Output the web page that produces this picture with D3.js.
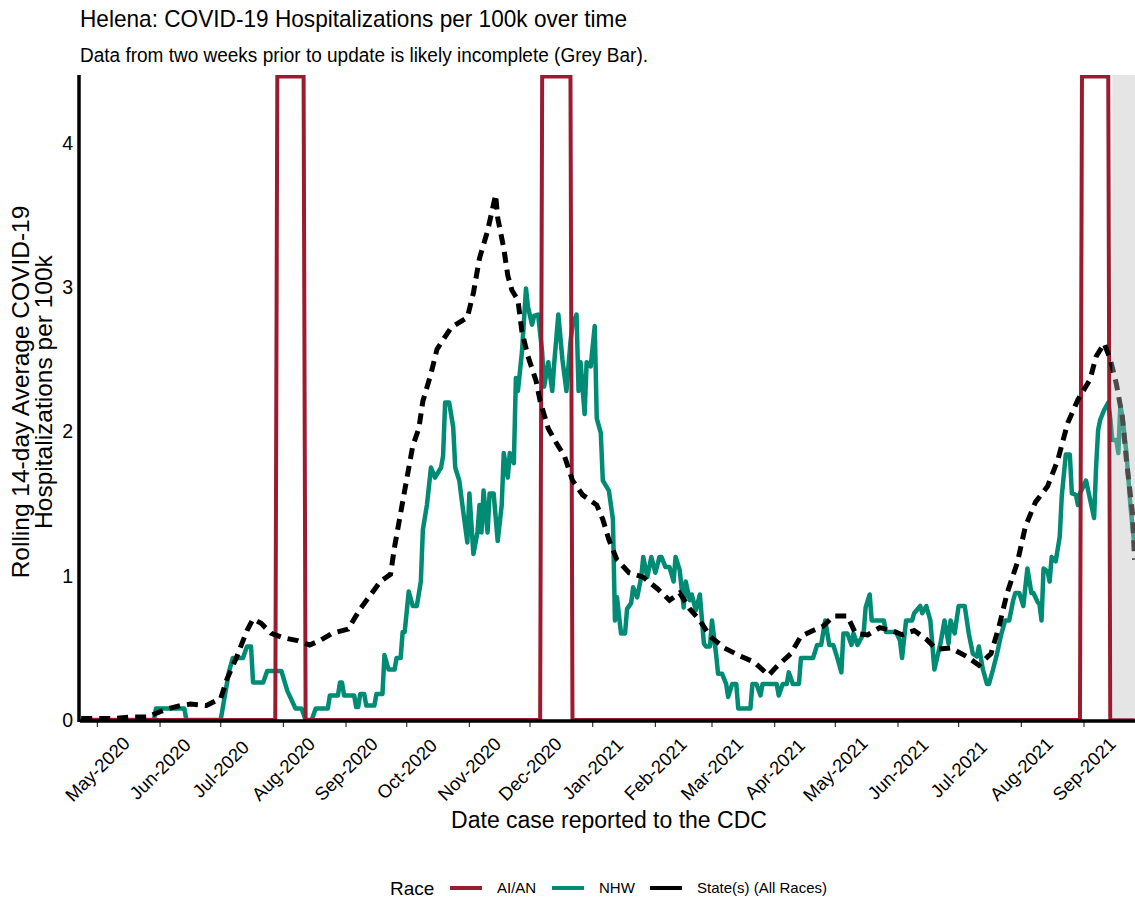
<!DOCTYPE html>
<html>
<head>
<meta charset="utf-8">
<script src="https://cdn.jsdelivr.net/npm/d3@7"></script>
<style>
body { margin: 0; background: #fff; }
svg { font-family: "Liberation Sans", Arial, sans-serif; }
</style>
</head>
<body>
<svg id="chart" width="1135" height="903"></svg>
<script>
// values, [date, per 100k]
const aianSeries = [
  ["2020-04-23", 0], ["2020-07-28", 0], ["2020-07-29", 4.46], ["2020-08-11", 4.46], ["2020-08-12", 0],
  ["2020-12-06", 0], ["2020-12-07", 4.46], ["2020-12-21", 4.46], ["2020-12-22", 0],
  ["2021-08-30", 0], ["2021-08-31", 4.46], ["2021-09-13", 4.46], ["2021-09-14", 0], ["2021-09-26", 0]
];

const nhwSeries = [
  ["2020-04-23", 0], ["2020-05-29", 0], ["2020-05-30", 0.08], ["2020-06-13", 0.08], ["2020-06-14", 0],
  ["2020-07-01", 0], ["2020-07-05", 0.33], ["2020-07-07", 0.43], ["2020-07-12", 0.43], ["2020-07-14", 0.51],
  ["2020-07-16", 0.51], ["2020-07-17", 0.26], ["2020-07-22", 0.26], ["2020-07-24", 0.34], ["2020-07-31", 0.34],
  ["2020-08-03", 0.20], ["2020-08-07", 0.08], ["2020-08-10", 0.08], ["2020-08-12", 0], ["2020-08-15", 0],
  ["2020-08-17", 0.08], ["2020-08-23", 0.08], ["2020-08-24", 0.17], ["2020-08-28", 0.17], ["2020-08-29", 0.26],
  ["2020-08-30", 0.26], ["2020-08-31", 0.17], ["2020-09-05", 0.17], ["2020-09-06", 0.09], ["2020-09-07", 0.09],
  ["2020-09-08", 0.18], ["2020-09-10", 0.18], ["2020-09-11", 0.10], ["2020-09-15", 0.10], ["2020-09-16", 0.18],
  ["2020-09-19", 0.18], ["2020-09-20", 0.45], ["2020-09-22", 0.35], ["2020-09-25", 0.35], ["2020-09-26", 0.43],
  ["2020-09-28", 0.43], ["2020-09-29", 0.61], ["2020-09-30", 0.61], ["2020-10-02", 0.89], ["2020-10-04", 0.79],
  ["2020-10-06", 0.79], ["2020-10-08", 0.96], ["2020-10-09", 1.32], ["2020-10-11", 1.49], ["2020-10-13", 1.75],
  ["2020-10-15", 1.68], ["2020-10-18", 1.75], ["2020-10-19", 1.83], ["2020-10-20", 2.20], ["2020-10-22", 2.20],
  ["2020-10-24", 2.03], ["2020-10-25", 1.75], ["2020-10-27", 1.66], ["2020-10-29", 1.44], ["2020-10-31", 1.23],
  ["2020-11-01", 1.57], ["2020-11-03", 1.15], ["2020-11-05", 1.30], ["2020-11-06", 1.49], ["2020-11-07", 1.30],
  ["2020-11-08", 1.59], ["2020-11-10", 1.30], ["2020-11-11", 1.57], ["2020-11-13", 1.57], ["2020-11-15", 1.24],
  ["2020-11-17", 1.49], ["2020-11-18", 1.85], ["2020-11-20", 1.68], ["2020-11-21", 1.85], ["2020-11-23", 1.78],
  ["2020-11-24", 2.37], ["2020-11-25", 2.28], ["2020-11-27", 2.55], ["2020-11-29", 2.99], ["2020-11-30", 2.86],
  ["2020-12-02", 2.74], ["2020-12-03", 2.80], ["2020-12-05", 2.81], ["2020-12-07", 2.55], ["2020-12-08", 2.31],
  ["2020-12-10", 2.48], ["2020-12-12", 2.28], ["2020-12-13", 2.48], ["2020-12-15", 2.81], ["2020-12-17", 2.50],
  ["2020-12-19", 2.28], ["2020-12-21", 2.62], ["2020-12-22", 2.74], ["2020-12-24", 2.81], ["2020-12-25", 2.28],
  ["2020-12-26", 2.48], ["2020-12-28", 2.12], ["2020-12-29", 2.48], ["2020-12-31", 2.45], ["2021-01-02", 2.73],
  ["2021-01-03", 2.09], ["2021-01-05", 1.99], ["2021-01-06", 1.66], ["2021-01-09", 1.59], ["2021-01-11", 1.39],
  ["2021-01-12", 0.69], ["2021-01-13", 0.85], ["2021-01-15", 0.60], ["2021-01-17", 0.60], ["2021-01-18", 0.77],
  ["2021-01-20", 0.81], ["2021-01-21", 0.92], ["2021-01-23", 0.85], ["2021-01-25", 0.99], ["2021-01-26", 1.13],
  ["2021-01-28", 0.99], ["2021-01-30", 1.13], ["2021-02-01", 1.02], ["2021-02-03", 1.13], ["2021-02-04", 1.13],
  ["2021-02-06", 1.06], ["2021-02-08", 1.06], ["2021-02-10", 0.96], ["2021-02-11", 1.13], ["2021-02-13", 1.04],
  ["2021-02-15", 0.78], ["2021-02-16", 0.96], ["2021-02-18", 0.83], ["2021-02-19", 0.87], ["2021-02-21", 0.76],
  ["2021-02-23", 0.87], ["2021-02-25", 0.53], ["2021-02-26", 0.51], ["2021-02-28", 0.51], ["2021-03-01", 0.69],
  ["2021-03-03", 0.46], ["2021-03-04", 0.32], ["2021-03-06", 0.32], ["2021-03-08", 0.25], ["2021-03-09", 0.16],
  ["2021-03-11", 0.25], ["2021-03-13", 0.25], ["2021-03-14", 0.08], ["2021-03-20", 0.08], ["2021-03-21", 0.25],
  ["2021-03-23", 0.25], ["2021-03-25", 0.17], ["2021-03-26", 0.25], ["2021-04-02", 0.25], ["2021-04-03", 0.17],
  ["2021-04-05", 0.25], ["2021-04-07", 0.25], ["2021-04-08", 0.33], ["2021-04-10", 0.25], ["2021-04-13", 0.25],
  ["2021-04-14", 0.43], ["2021-04-20", 0.43], ["2021-04-22", 0.52], ["2021-04-24", 0.52], ["2021-04-26", 0.69],
  ["2021-04-28", 0.52], ["2021-04-30", 0.52], ["2021-05-02", 0.43], ["2021-05-04", 0.33], ["2021-05-05", 0.60],
  ["2021-05-07", 0.60], ["2021-05-09", 0.52], ["2021-05-10", 0.60], ["2021-05-12", 0.52], ["2021-05-15", 0.60],
  ["2021-05-16", 0.78], ["2021-05-18", 0.87], ["2021-05-19", 0.69], ["2021-05-25", 0.69], ["2021-05-26", 0.61],
  ["2021-05-31", 0.61], ["2021-06-02", 0.55], ["2021-06-03", 0.43], ["2021-06-05", 0.69], ["2021-06-08", 0.69],
  ["2021-06-09", 0.74], ["2021-06-12", 0.79], ["2021-06-13", 0.74], ["2021-06-15", 0.79], ["2021-06-17", 0.69],
  ["2021-06-19", 0.35], ["2021-06-22", 0.53], ["2021-06-24", 0.69], ["2021-06-26", 0.53], ["2021-06-27", 0.69],
  ["2021-06-29", 0.60], ["2021-07-01", 0.79], ["2021-07-04", 0.79], ["2021-07-06", 0.60], ["2021-07-08", 0.46],
  ["2021-07-10", 0.44], ["2021-07-11", 0.51], ["2021-07-13", 0.35], ["2021-07-15", 0.25], ["2021-07-16", 0.25],
  ["2021-07-18", 0.35], ["2021-07-20", 0.46], ["2021-07-22", 0.59], ["2021-07-24", 0.69], ["2021-07-26", 0.69],
  ["2021-07-28", 0.83], ["2021-07-29", 0.88], ["2021-07-31", 0.88], ["2021-08-02", 0.79], ["2021-08-03", 0.92],
  ["2021-08-04", 1.05], ["2021-08-06", 0.88], ["2021-08-07", 0.88], ["2021-08-09", 0.82], ["2021-08-10", 0.80],
  ["2021-08-11", 0.69], ["2021-08-12", 1.05], ["2021-08-14", 1.03], ["2021-08-15", 0.96], ["2021-08-16", 1.13],
  ["2021-08-18", 1.10], ["2021-08-20", 1.27], ["2021-08-21", 1.55], ["2021-08-23", 1.84], ["2021-08-25", 1.84],
  ["2021-08-26", 1.57], ["2021-08-28", 1.56], ["2021-08-29", 1.49], ["2021-08-30", 1.57], ["2021-09-02", 1.66],
  ["2021-09-04", 1.53], ["2021-09-06", 1.40], ["2021-09-07", 1.76], ["2021-09-08", 2.01], ["2021-09-09", 2.08],
  ["2021-09-11", 2.15], ["2021-09-13", 2.20], ["2021-09-14", 2.09], ["2021-09-15", 1.94], ["2021-09-17", 1.94],
  ["2021-09-18", 1.85], ["2021-09-19", 2.18], ["2021-09-20", 2.10], ["2021-09-22", 1.85], ["2021-09-24", 1.48],
  ["2021-09-26", 1.20]
];

const stateSeries = [
  ["2020-04-23", 0.01], ["2020-05-09", 0.01], ["2020-05-17", 0.02], ["2020-05-26", 0.02], ["2020-05-28", 0.035],
  ["2020-06-04", 0.074], ["2020-06-11", 0.10], ["2020-06-16", 0.11], ["2020-06-24", 0.10], ["2020-07-01", 0.15],
  ["2020-07-04", 0.28], ["2020-07-09", 0.44], ["2020-07-14", 0.62], ["2020-07-17", 0.70], ["2020-07-21", 0.67],
  ["2020-07-26", 0.60], ["2020-08-01", 0.57], ["2020-08-08", 0.55], ["2020-08-14", 0.52], ["2020-08-19", 0.55],
  ["2020-08-25", 0.60], ["2020-09-02", 0.63], ["2020-09-08", 0.77], ["2020-09-18", 0.96], ["2020-09-23", 1.01],
  ["2020-09-25", 1.20], ["2020-09-30", 1.59], ["2020-10-04", 1.90], ["2020-10-07", 2.02], ["2020-10-09", 2.21],
  ["2020-10-13", 2.40], ["2020-10-16", 2.57], ["2020-10-23", 2.72], ["2020-10-31", 2.79], ["2020-11-03", 2.96],
  ["2020-11-06", 3.20], ["2020-11-10", 3.39], ["2020-11-14", 3.64], ["2020-11-15", 3.48], ["2020-11-18", 3.27],
  ["2020-11-20", 3.08], ["2020-11-22", 2.98], ["2020-11-25", 2.91], ["2020-11-27", 2.69], ["2020-11-30", 2.52],
  ["2020-12-04", 2.35], ["2020-12-06", 2.21], ["2020-12-10", 2.02], ["2020-12-14", 1.92], ["2020-12-18", 1.83],
  ["2020-12-22", 1.66], ["2020-12-27", 1.56], ["2021-01-03", 1.49], ["2021-01-06", 1.39], ["2021-01-09", 1.25],
  ["2021-01-13", 1.11], ["2021-01-19", 1.02], ["2021-01-26", 0.99], ["2021-02-02", 0.91], ["2021-02-08", 0.83],
  ["2021-02-13", 0.88], ["2021-02-18", 0.77], ["2021-02-23", 0.69], ["2021-02-28", 0.58], ["2021-03-07", 0.50],
  ["2021-03-14", 0.45], ["2021-03-22", 0.40], ["2021-03-29", 0.31], ["2021-04-02", 0.37], ["2021-04-09", 0.46],
  ["2021-04-14", 0.58], ["2021-04-20", 0.62], ["2021-04-25", 0.65], ["2021-04-30", 0.72], ["2021-05-07", 0.72],
  ["2021-05-11", 0.60], ["2021-05-17", 0.59], ["2021-05-23", 0.64], ["2021-05-29", 0.62], ["2021-06-03", 0.59],
  ["2021-06-09", 0.62], ["2021-06-15", 0.56], ["2021-06-20", 0.49], ["2021-06-27", 0.50], ["2021-07-05", 0.44],
  ["2021-07-11", 0.38], ["2021-07-17", 0.46], ["2021-07-21", 0.65], ["2021-07-25", 0.88], ["2021-07-30", 1.09],
  ["2021-08-03", 1.34], ["2021-08-08", 1.51], ["2021-08-14", 1.62], ["2021-08-19", 1.80], ["2021-08-24", 2.06],
  ["2021-08-29", 2.22], ["2021-09-04", 2.36], ["2021-09-07", 2.52], ["2021-09-11", 2.61], ["2021-09-14", 2.50],
  ["2021-09-17", 2.33], ["2021-09-20", 2.10], ["2021-09-22", 1.80], ["2021-09-25", 1.43], ["2021-09-26", 1.11]
];

const yTicks = [0, 1, 2, 3, 4];
const greyStart = "2021-09-15";
const legendItems = [
  { label: "AI/AN", color: "#9b1b30" },
  { label: "NHW", color: "#008b74" },
  { label: "State(s) (All Races)", color: "#000000" }
];

const svg = d3.select("#chart");
const parse = d3.utcParse("%Y-%m-%d");
const padL = 80, padR = 1135, padT = 75, padB = 720;

const x = d3.scaleUtc()
  .domain([new Date(Date.UTC(2020, 3, 22, 9, 43)), new Date(Date.UTC(2021, 8, 26, 5, 30))])
  .range([padL, padR]);
const y = d3.scaleLinear().domain([0, 4.47]).range([padB, padT]);

svg.append("defs").append("clipPath").attr("id", "panel")
  .append("rect").attr("x", padL).attr("y", padT).attr("width", padR - padL).attr("height", padB - padT);

const line = d3.line()
  .x(d => x(parse(d[0])))
  .y(d => y(d[1]));

const plot = svg.append("g").attr("clip-path", "url(#panel)");

plot.append("path").datum(nhwSeries)
  .attr("d", line).attr("fill", "none")
  .attr("stroke", legendItems[1].color).attr("stroke-width", 4.5).attr("stroke-linejoin", "round");

plot.append("path").datum(aianSeries)
  .attr("d", line).attr("fill", "none")
  .attr("stroke", legendItems[0].color).attr("stroke-width", 4);

plot.append("path").datum(stateSeries)
  .attr("d", line).attr("fill", "none")
  .attr("stroke", "#000").attr("stroke-width", 5).attr("stroke-dasharray", "11,7");

// grey "incomplete" bar on top of the lines
plot.append("rect")
  .attr("x", x(parse(greyStart))).attr("y", padT)
  .attr("width", padR - x(parse(greyStart))).attr("height", padB - padT)
  .attr("fill", "#bebebe").attr("fill-opacity", 0.4);

// axes
const months = d3.utcMonth.range(new Date(Date.UTC(2020, 4, 1)), new Date(Date.UTC(2021, 8, 2)));
const fmt = d3.utcFormat("%b-%Y");

svg.append("g").selectAll("line").data(months).join("line")
  .attr("x1", d => x(d)).attr("x2", d => x(d))
  .attr("y1", padB + 2).attr("y2", padB + 7)
  .attr("stroke", "#333").attr("stroke-width", 1.2);

svg.append("g").selectAll("text").data(months).join("text")
  .attr("transform", d => `translate(${x(d)},${padB + 49}) rotate(-45)`)
  .attr("text-anchor", "middle").attr("dy", "0.35em")
  .attr("font-size", 18.5).attr("fill", "#000")
  .text(fmt);

svg.append("line").attr("x1", padL).attr("x2", padR).attr("y1", padB + 1).attr("y2", padB + 1)
  .attr("stroke", "#000").attr("stroke-width", 3.5);
svg.append("line").attr("x1", padL - 1).attr("x2", padL - 1).attr("y1", padT).attr("y2", padB + 2)
  .attr("stroke", "#000").attr("stroke-width", 3.5);

svg.append("g").selectAll("text").data(yTicks).join("text")
  .attr("x", padL - 7).attr("y", d => y(d)).attr("dy", "0.36em")
  .attr("text-anchor", "end").attr("font-size", 19.5).attr("fill", "#000")
  .text(d => d);

// titles
svg.append("text").attr("x", 80).attr("y", 27).attr("font-size", 24)
  .attr("textLength", 547).attr("lengthAdjust", "spacingAndGlyphs")
  .text("Helena: COVID-19 Hospitalizations per 100k over time");
svg.append("text").attr("x", 80).attr("y", 62).attr("font-size", 19.5)
  .attr("textLength", 568).attr("lengthAdjust", "spacingAndGlyphs")
  .text("Data from two weeks prior to update is likely incomplete (Grey Bar).");

svg.append("text").attr("x", 609).attr("y", 828).attr("text-anchor", "middle").attr("font-size", 23)
  .text("Date case reported to the CDC");

const yt = svg.append("text").attr("transform", "translate(0,392) rotate(-90)")
  .attr("text-anchor", "middle").attr("font-size", 24.5);
yt.append("tspan").attr("x", 0).attr("y", 29).text("Rolling 14-day Average COVID-19");
yt.append("tspan").attr("x", 0).attr("y", 52).text("Hospitalizations per 100k");

// legend
const lg = svg.append("g").attr("transform", "translate(390,888)");
lg.append("text").attr("x", 0).attr("dy", "0.36em").attr("font-size", 19).text("Race");
const keyX = [60, 162, 260];
lg.selectAll("g.key").data(legendItems).join("g").attr("class", "key")
  .attr("transform", (d, i) => `translate(${keyX[i]},0)`)
  .each(function(d) {
    const g = d3.select(this);
    g.append("line").attr("x1", 0).attr("x2", 32).attr("stroke", d.color).attr("stroke-width", 4);
    g.append("text").attr("x", 47).attr("dy", "0.36em").attr("font-size", 15).text(d.label);
  });
</script>
</body>
</html>
